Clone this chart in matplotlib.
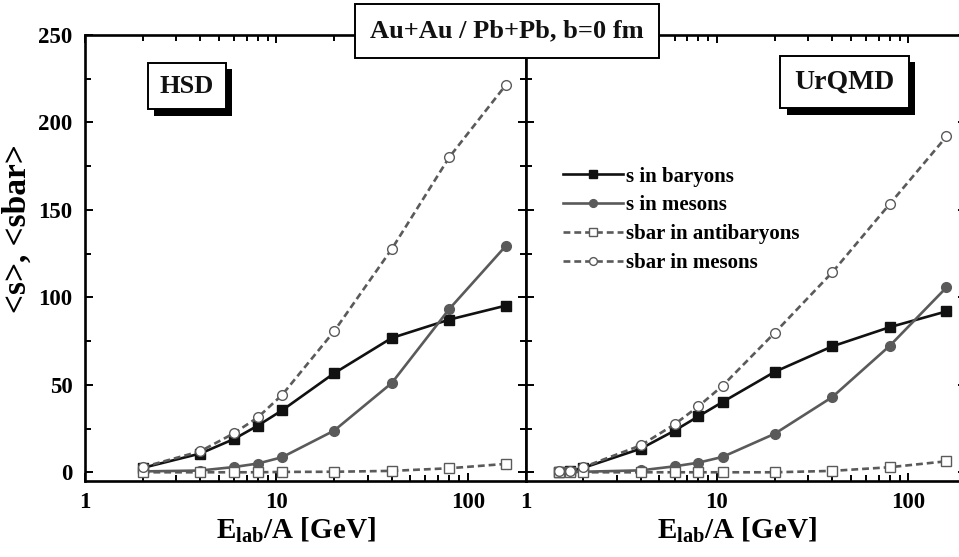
import matplotlib
matplotlib.use("Agg")
import matplotlib.pyplot as plt
import matplotlib.patheffects as pe
from matplotlib.ticker import LogLocator, MultipleLocator, FixedFormatter, FixedLocator

plt.rcParams['font.family'] = ['Liberation Serif', 'DejaVu Serif']
plt.rcParams['font.weight'] = 'bold'
plt.rcParams['mathtext.fontset'] = 'custom'
plt.rcParams['mathtext.rm'] = 'Liberation Serif:bold'
plt.rcParams['mathtext.bf'] = 'Liberation Serif:bold'
plt.rcParams['mathtext.it'] = 'Liberation Serif:bold'

# HSD (left panel)
hsd_e = [2, 4, 6, 8, 10.7, 20, 40, 80, 158]
hsd_s_baryons = [2.5, 10.7, 19, 26.7, 35.4, 56.6, 76.8, 87.3, 95.3]
hsd_s_mesons = [0.5, 1, 3, 5, 8.6, 23.8, 51, 93.4, 129.5]
hsd_sbar_antibaryons = [0, 0, 0, 0, 0.2, 0.3, 0.8, 2.3, 4.8]
hsd_sbar_mesons = [2.9, 12, 22.3, 31.4, 44.2, 80.6, 127.6, 180.2, 221.5]

# UrQMD (right panel)
urqmd_e = [1.5, 1.7, 2, 4, 6, 8, 10.7, 20, 40, 80, 158]
urqmd_s_baryons = [0.3, 0.5, 2.5, 13.5, 23.8, 32, 40.2, 57.4, 72, 83, 92]
urqmd_s_mesons = [0.2, 0.3, 0.3, 1.1, 3.4, 5.5, 8.8, 22, 43, 72.4, 105.7]
urqmd_sbar_antibaryons = [0, 0, 0, 0, 0, 0, 0, 0, 0.8, 2.9, 6.3]
urqmd_sbar_mesons = [0.8, 1.0, 2.9, 15.4, 27.4, 37.7, 49.5, 79.7, 114.3, 153.5, 192]

labels = ["s in baryons", "s in mesons", "sbar in antibaryons", "sbar in mesons"]
x_ticks = [1, 10, 100]
x_ticklabels = ["1", "10", "100"]
y_ticks = [0, 50, 100, 150, 200, 250]

dark = '#111111'
grey = '#5a5a5a'
dash = (0, (2.6, 1.5))

fig = plt.figure(figsize=(9.59, 5.57), dpi=100)
ax1 = fig.add_axes([0.0886, 0.1364, 0.4594, 0.8007])
ax2 = fig.add_axes([0.5480, 0.1364, 0.4594, 0.8007])


def draw(ax, e, sb, sm, ab, am):
    ax.plot(e, sb, color=dark, lw=1.9, marker='s', ms=6.5, mfc=dark, mec=dark, label=labels[0])
    ax.plot(e, sm, color=grey, lw=1.9, marker='o', ms=7, mfc=grey, mec=grey, label=labels[1])
    ax.plot(e, ab, color=grey, lw=1.9, ls=dash, marker='s', ms=6.5, mfc='white', mec=grey,
            mew=1.0, label=labels[2])
    ax.plot(e, am, color=grey, lw=1.9, ls=dash, marker='o', ms=7, mfc='white', mec=grey,
            mew=1.0, label=labels[3])
    ax.set_xscale('log')
    ax.set_xlim(1, 200)
    ax.set_ylim(-5, 250)
    ax.xaxis.set_major_locator(FixedLocator(x_ticks))
    ax.xaxis.set_major_formatter(FixedFormatter(x_ticklabels))
    ax.xaxis.set_minor_locator(LogLocator(base=10, subs=range(2, 10)))
    ax.xaxis.set_minor_formatter(FixedFormatter([]))
    ax.set_yticks(y_ticks)
    ax.yaxis.set_minor_locator(MultipleLocator(25))
    ax.tick_params(which='both', direction='in', top=True, right=True, width=1.4,
                   labelsize=16.5, pad=9)
    ax.tick_params(axis='x', which='both', pad=8)
    ax.tick_params(which='major', length=6)
    ax.tick_params(which='minor', length=4)
    for sp in ax.spines.values():
        sp.set_linewidth(1.9)
    ax.set_xlabel(r'E$_{\mathrm{lab}}$/A [GeV]', fontsize=21, fontweight='bold')
    ax.xaxis.set_label_coords(0.479, -0.077)


draw(ax1, hsd_e, hsd_s_baryons, hsd_s_mesons, hsd_sbar_antibaryons, hsd_sbar_mesons)
draw(ax2, urqmd_e, urqmd_s_baryons, urqmd_s_mesons, urqmd_sbar_antibaryons, urqmd_sbar_mesons)

ax2.tick_params(axis='y', which='both', labelleft=False)
ax1.set_ylabel('<s>, <sbar>', fontsize=24, fontweight='bold')
ax1.yaxis.set_label_coords(-0.118, 0.567)

shadow = [pe.withSimplePatchShadow(offset=(4.5, -4.5), shadow_rgbFace='black', alpha=1.0)]
t1 = ax1.text(0.2316, 0.8857, 'HSD', transform=ax1.transAxes, ha='center', va='center',
              fontsize=19, fontweight='bold', color='#111111',
              bbox=dict(boxstyle='square,pad=0.45', fc='white', ec='black', lw=1.4))
t1.get_bbox_patch().set_path_effects(shadow)
t2 = ax2.text(0.724, 0.8946, 'UrQMD', transform=ax2.transAxes, ha='center', va='center',
              fontsize=20, fontweight='bold', color='#111111',
              bbox=dict(boxstyle='square,pad=0.5', fc='white', ec='black', lw=1.4))
t2.get_bbox_patch().set_path_effects(shadow)

fig.text(0.529, 0.944, 'Au+Au / Pb+Pb, b=0 fm', ha='center', va='center', fontsize=19,
         fontweight='bold', color='#111111', zorder=10,
         bbox=dict(boxstyle='square,pad=0.58', fc='white', ec='black', lw=1.4))

leg = ax2.legend(loc='upper left', bbox_to_anchor=(0.084, 0.705), frameon=False,
                 fontsize=15, handlelength=2.9, handletextpad=0.15, labelspacing=0.42,
                 borderpad=0, borderaxespad=0, markerscale=0.8)
for t in leg.get_texts():
    t.set_fontweight('bold')

fig.savefig('out.png', dpi=100)
